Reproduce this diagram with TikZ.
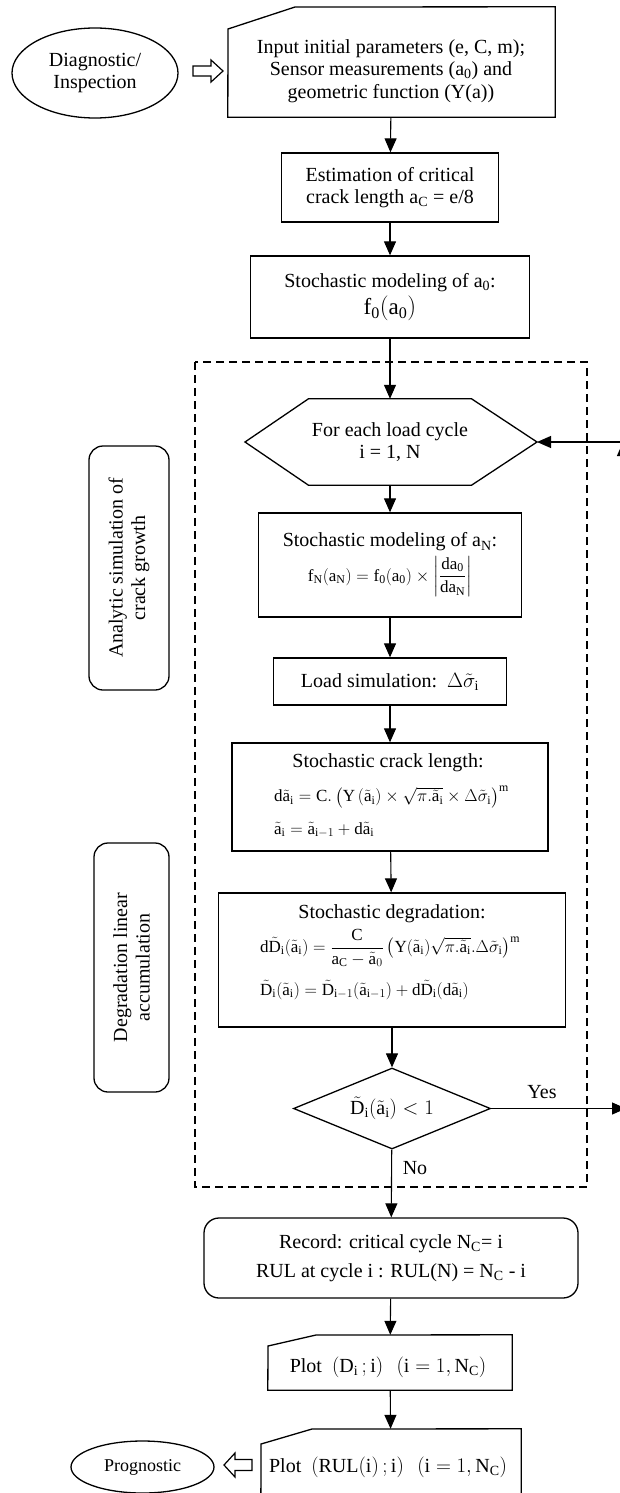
\documentclass[tikz,border=0pt]{standalone}
\usepackage{amsmath,amssymb}
\usepackage{fontspec}
\setmainfont{Liberation Serif}
\usepackage{tikz}
\usetikzlibrary{shapes.geometric,arrows.meta}
\newcommand{\ta}{\tilde{\mathrm{a}}}
\newcommand{\tD}{\tilde{\mathrm{D}}}
\newcommand{\tsig}{\tilde{\sigma}}
\newcommand{\rmi}{\mathrm{i}}

\begin{document}
\begin{tikzpicture}[x=1pt,y=-1pt,>={Triangle[length=14pt,width=12pt]},
  font=\fontsize{20}{22.5}\selectfont,
  box/.style={draw,line width=1.3pt,inner sep=0pt,align=center},
  link/.style={->,line width=1.1pt},
  formula/.style={anchor=west,inner sep=0pt,font=\fontsize{17}{20}\selectfont}]
\useasboundingbox (0,0) rectangle (620,1493);
\clip (0,0) rectangle (620,1493);

\node[ellipse,draw,line width=1.3pt,minimum width=166,minimum height=90,align=center] (diag) at (95,73) {Diagnostic/\\Inspection};
\draw[line width=1.2pt] (193,66) -- (211,66) -- (211,60) -- (223,71) -- (211,82) -- (211,76) -- (193,76) -- cycle;
\node[minimum width=327,minimum height=110] (input) at (391.5,62) {};
\draw[line width=1.3pt] (input.south west) -- (228,29) -- (295,7) -- (input.north east) -- (input.south east) -- cycle;
\node[align=center] (inputtxt) at (391,71) {Input initial parameters (e, C, m);\\Sensor measurements (a\textsubscript{0}) and\\geometric function (Y(a))};

\node[box,minimum width=217,minimum height=69] (est) at (390,187.5) {Estimation of critical\\crack length a\textsubscript{C} = e/8};
\node[box,minimum width=279,minimum height=82] (a0) at (390,297) {Stochastic modeling of a\textsubscript{0}:\\[3pt]{\fontsize{23}{26}\selectfont$\mathrm{f_0(a_0)}$}};

\draw[line width=1.3pt,dash pattern=on 8pt off 5pt] (195,362) rectangle (587,1187);

\node[minimum width=146,minimum height=86,align=center] (hex) at (390,442) {For each load cycle\\i = 1, N};
\draw[line width=1.3pt] (hex.north west) -- (hex.north east) -- (537,442) -- (hex.south east) -- (hex.south west) -- (245,442) -- cycle;
\coordinate (hexin) at (537,442);
\coordinate (loopret) at (640,442);
\coordinate (upstart) at (623,1100);
\coordinate (upend) at (623,442);

\node[box,minimum width=263,minimum height=104] (aN) at (390,565) {Stochastic modeling of a\textsubscript{N}:\\[4pt]{\fontsize{17}{20}\selectfont$\mathrm{f_N(a_N)} = \mathrm{f_0(a_0)}\times\left|\dfrac{\mathrm{da_0}}{\mathrm{da_N}}\right|$}};
\node[box,minimum width=233,minimum height=47] (load) at (390,681.5) {Load simulation:\ \ $\Delta\tsig_\rmi$};

\node[box,minimum width=316,minimum height=108] (crack) at (390,797) {};
\node (cracktitle) at (388,763) {Stochastic crack length:};
\node[formula] (crackf1) at (274,797) {$\mathrm{d}\ta_\rmi = \mathrm{C}.\left(\mathrm{Y}\left(\ta_\rmi\right)\times\sqrt{\pi.\ta_\rmi}\times\Delta\tsig_\rmi\right)^{\mathrm{m}}$};
\node[formula] (crackf2) at (274,830) {$\ta_\rmi = \ta_{\rmi-1} + \mathrm{d}\ta_\rmi$};

\node[box,minimum width=347,minimum height=134] (degr) at (392,960) {};
\node (degrtitle) at (392,914) {Stochastic degradation:};
\node[formula] (degrf1) at (260,948) {$\mathrm{d}\tD_\rmi(\ta_\rmi) = \dfrac{\mathrm{C}}{\mathrm{a_C}-\ta_0}\left(\mathrm{Y}(\ta_\rmi)\sqrt{\pi.\ta_\rmi}.\Delta\tsig_\rmi\right)^{\mathrm{m}}$};
\node[formula] (degrf2) at (260,990) {$\tD_\rmi(\ta_\rmi) = \tD_{\rmi-1}(\ta_{\rmi-1}) + \mathrm{d}\tD_\rmi(\mathrm{d}\ta_\rmi)$};

\node[draw,line width=1.3pt,rounded corners=14,rotate=90,minimum width=244,minimum height=80,align=center] (side1) at (129,568) {Analytic simulation of\\crack growth};
\node[draw,line width=1.3pt,rounded corners=14,rotate=90,minimum width=249,minimum height=75,align=center] (side2) at (131.5,967.5) {Degradation linear\\accumulation};

\node[diamond,draw,line width=1.3pt,minimum width=197,minimum height=81,aspect=2.4,inner sep=0pt] (dec) at (392,1108.5) {$\tD_\rmi(\ta_\rmi) < 1$};
\coordinate (yesend) at (626,1108.5);
\node (yes) at (542,1092) {Yes};
\node (no) at (415,1168) {No};

\node[draw,line width=1.3pt,rounded corners=15,minimum width=374,minimum height=80,align=center] (rec) at (391,1258) {Record: critical cycle N\textsubscript{C}= i\\[7pt]RUL at cycle i : RUL(N) = N\textsubscript{C} - i};

\node[minimum width=244,minimum height=55] (plotd) at (390,1362.5) {};
\draw[line width=1.3pt] (plotd.south west) -- (268,1346) -- (316,1335) -- (plotd.north east) -- (plotd.south east) -- cycle;
\node (plotdtxt) at (388,1367) {Plot\ \ $(\mathrm{D_i}\,;\mathrm{i})\ \ \left(\mathrm{i}=1,\mathrm{N_C}\right)$};
\node[minimum width=260,minimum height=100] (plotr) at (391,1479) {};
\draw[line width=1.3pt] (plotr.south west) -- (261,1444) -- (312,1429) -- (plotr.north east) -- (plotr.south east) -- cycle;
\node (plotrtxt) at (388,1467) {Plot\ \ $(\mathrm{RUL(i)}\,;\mathrm{i})\ \ \left(\mathrm{i}=1,\mathrm{N_C}\right)$};

\node[ellipse,draw,line width=1.3pt,minimum width=143,minimum height=52,font=\fontsize{18}{20}\selectfont] (prog) at (142.5,1467) {Prognostic};
\draw[line width=1.2pt] (224,1465) -- (235,1453) -- (235,1459.5) -- (252,1459.5) -- (252,1470.5) -- (235,1470.5) -- (235,1477) -- cycle;

\draw[link] (input) -- (est);
\draw[link] (est) -- (a0);
\draw[link] (a0) -- (hex);
\draw[link] (loopret) -- (hexin);
\draw[link] (upstart) -- (upend);
\draw[link] (hex) -- (aN);
\draw[link] (aN) -- (load);
\draw[link] (load) -- (crack);
\draw[link] (crack) -- (degr);
\draw[link] (degr) -- (dec);
\draw[link] (dec.east) -- (yesend);
\draw[link] (dec) -- (rec);
\draw[link] (rec) -- (plotd);
\draw[link] (plotd) -- (plotr);
\end{tikzpicture}
\end{document}
